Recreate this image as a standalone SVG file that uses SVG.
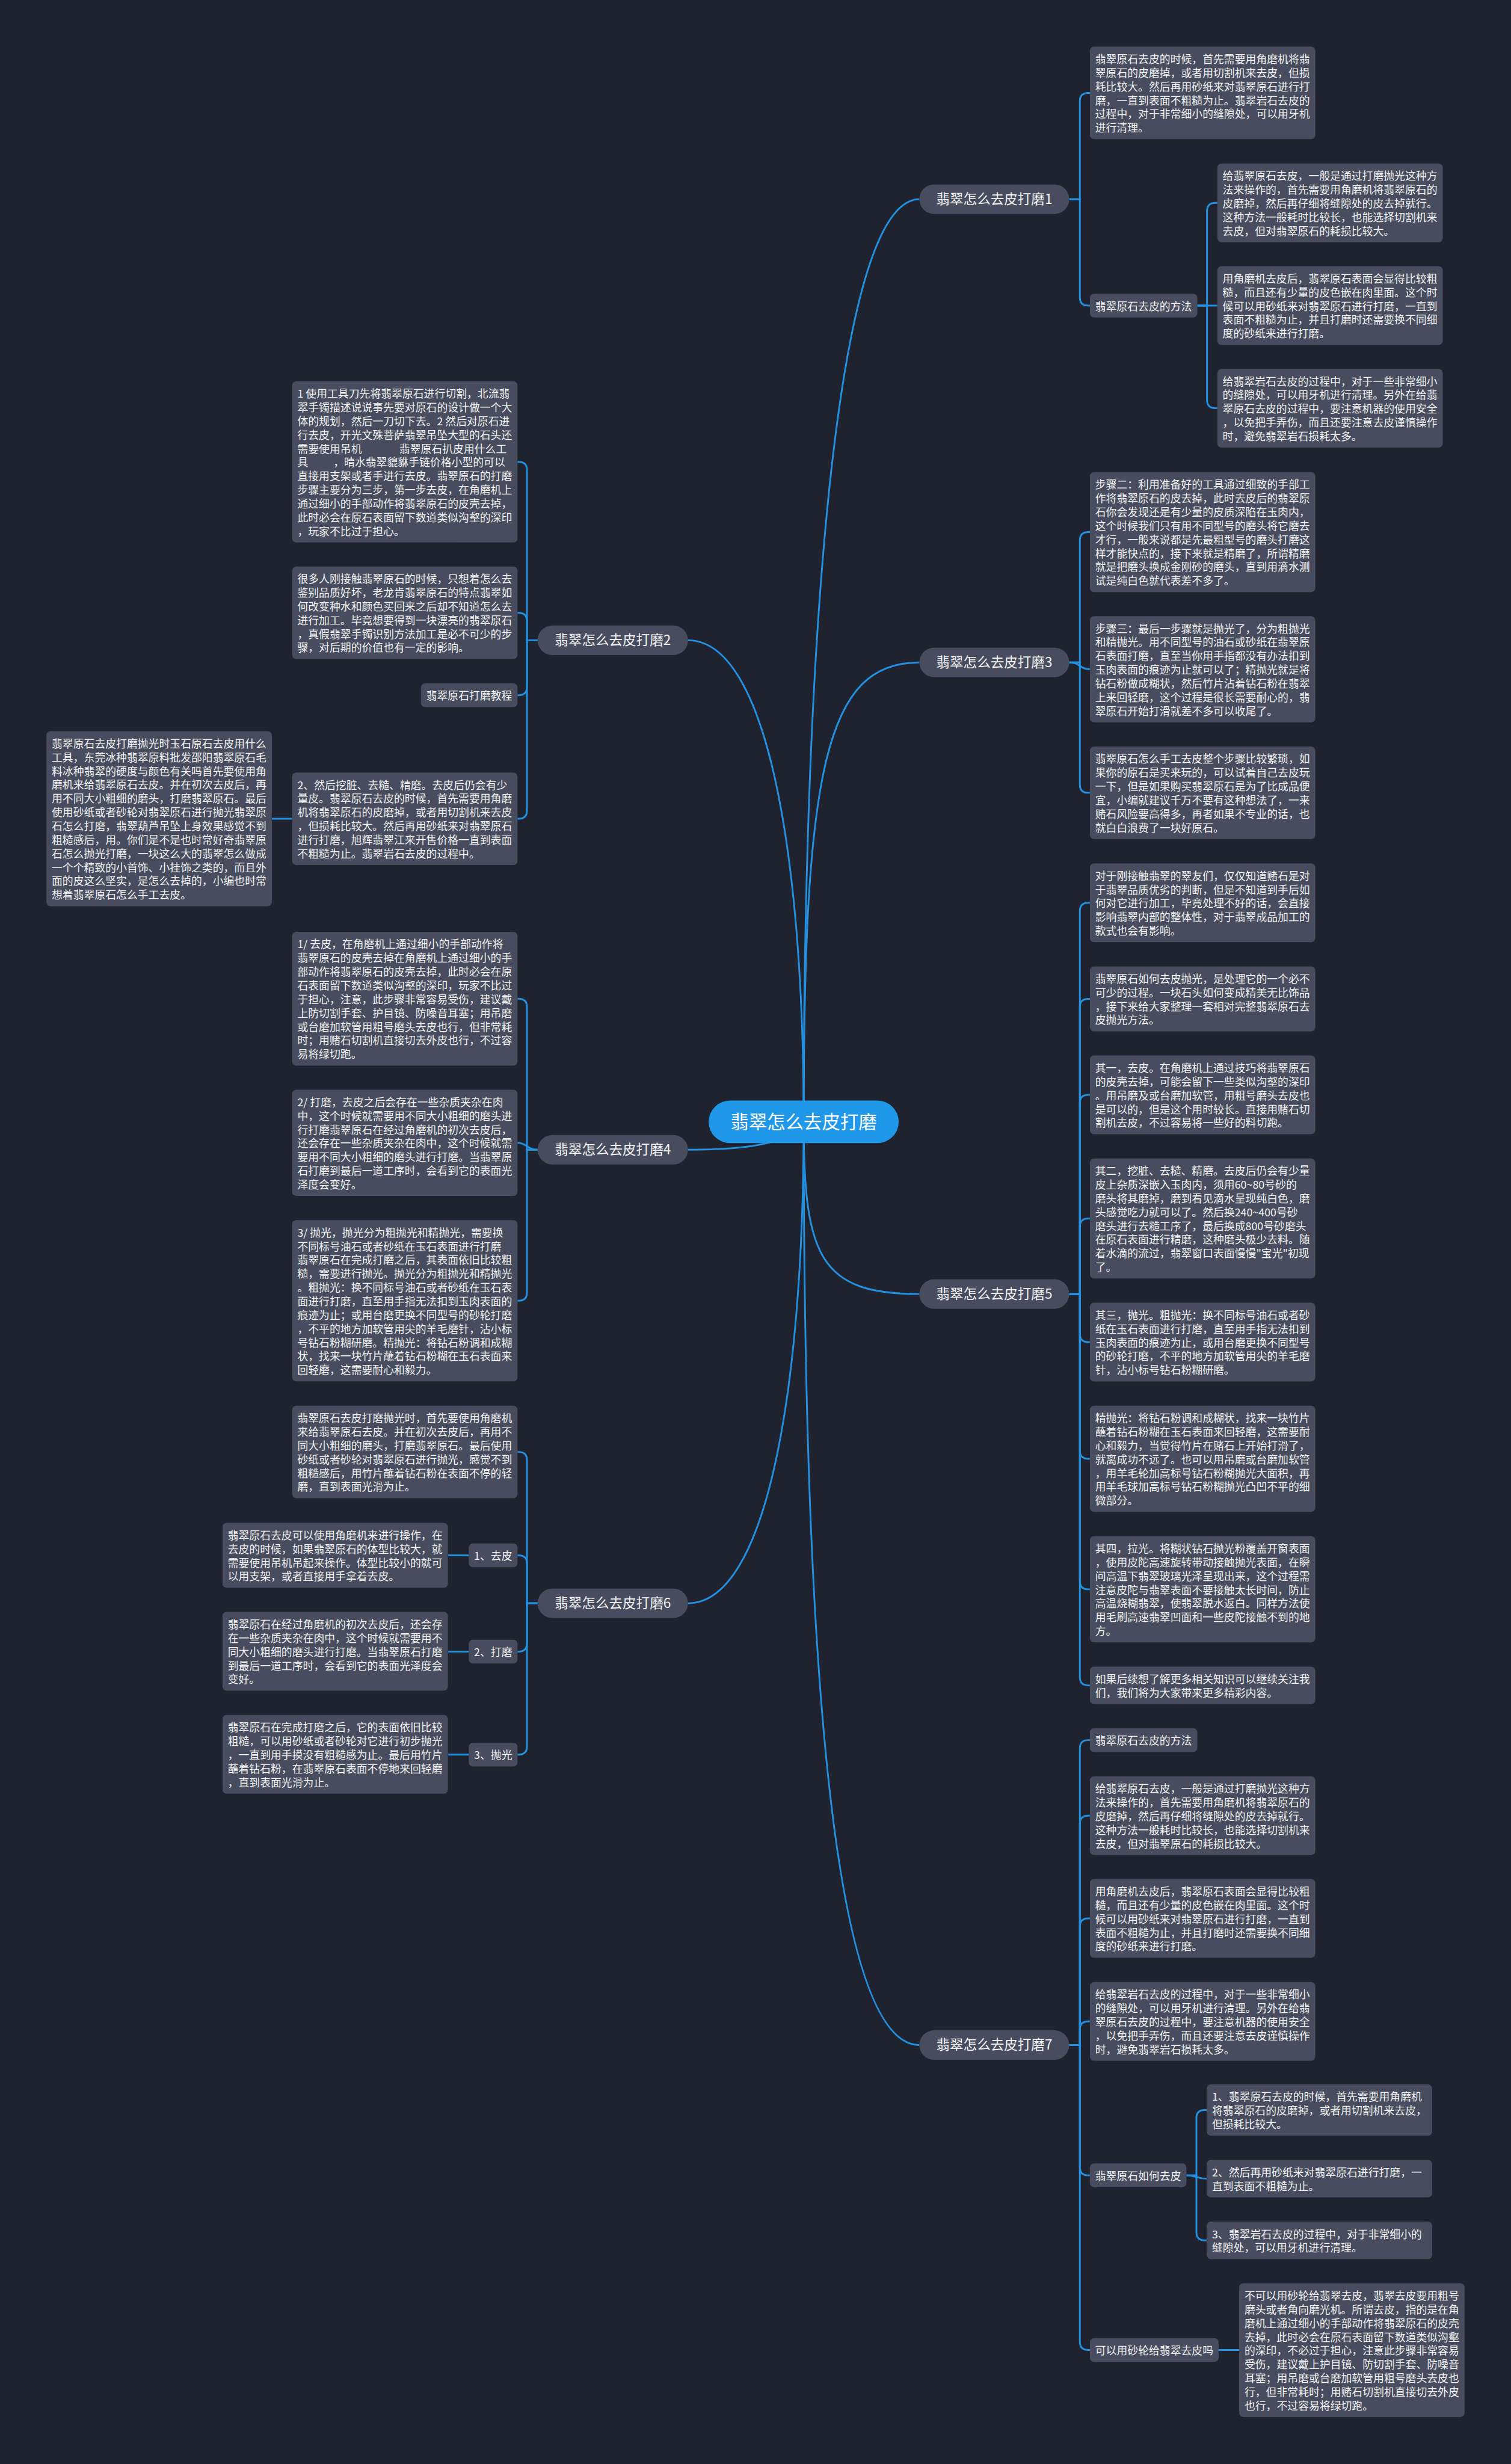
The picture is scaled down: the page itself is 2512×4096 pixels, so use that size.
<svg xmlns="http://www.w3.org/2000/svg" width="2512" height="4096" viewBox="0 0 2512 4096">
<style>
.bg{fill:#1f2330}
.box{fill:#474d5e}
.t{font-family:"Noto Sans CJK SC","Noto Sans",sans-serif;font-size:18.2px;fill:#f2f2f2}
.bt{font-family:"Noto Sans CJK SC","Noto Sans",sans-serif;font-size:23px;fill:#f2f2f2;text-anchor:middle}
.rt{font-family:"Noto Sans CJK SC","Noto Sans",sans-serif;font-size:31px;fill:#ffffff;text-anchor:middle}
.root{fill:#1f98ea}
.lk{fill:none;stroke:#2390e0;stroke-width:3}
</style>
<rect class="bg" x="0" y="0" width="2512" height="4096"/>
<g transform="scale(0.981)">
<g id="connectors" class="lk">
<path d="M1362 1901C1362 1100 1415 337.6 1558 337.6"/>
<path d="M1362 1901C1362 1300 1400 1122.5 1558 1122.5"/>
<path d="M1362 1901C1362 2130 1390 2192.8 1558 2192.8"/>
<path d="M1362 1901C1362 2800 1410 3465.4 1558 3465.4"/>
<path d="M1362 1901C1362 1450 1300 1085 1166 1085"/>
<path d="M1362 1901C1340 1935 1280 1948.25 1166 1948.25"/>
<path d="M1362 1901C1362 2350 1300 2716.8 1166 2716.8"/>
<path d="M1812 337.6H1830V171.4Q1830 157.4 1844 157.4H1847"/>
<path d="M1812 337.6H1830V503.75Q1830 517.75 1844 517.75H1847"/>
<path d="M2029 517.75H2045.5V357.75Q2045.5 343.75 2059.5 343.75H2063"/>
<path d="M2029 517.75H2063"/>
<path d="M2029 517.75H2045.5V677.75Q2045.5 691.75 2059.5 691.75H2063"/>
<path d="M1812 1122.5H1830V915.7Q1830 901.7 1844 901.7H1847"/>
<path d="M1812 1122.5C1830 1122.5 1830 1134.05 1847 1134.05"/>
<path d="M1812 1122.5H1830V1329.4Q1830 1343.4 1844 1343.4H1847"/>
<path d="M1812 2192.8H1830V1543.75Q1830 1529.75 1844 1529.75H1847"/>
<path d="M1812 2192.8H1830V1706.6Q1830 1692.6 1844 1692.6H1847"/>
<path d="M1812 2192.8H1830V1869.25Q1830 1855.25 1844 1855.25H1847"/>
<path d="M1812 2192.8H1830V2078.7Q1830 2064.7 1844 2064.7H1847"/>
<path d="M1812 2192.8H1830V2260.15Q1830 2274.15 1844 2274.15H1847"/>
<path d="M1812 2192.8H1830V2457.95Q1830 2471.95 1844 2471.95H1847"/>
<path d="M1812 2192.8H1830V2679.05Q1830 2693.05 1844 2693.05H1847"/>
<path d="M1812 2192.8H1830V2841.9Q1830 2855.9 1844 2855.9H1847"/>
<path d="M1812 3465.4H1830V2962.65Q1830 2948.65 1844 2948.65H1847"/>
<path d="M1812 3465.4H1830V3090.75Q1830 3076.75 1844 3076.75H1847"/>
<path d="M1812 3465.4H1830V3264.75Q1830 3250.75 1844 3250.75H1847"/>
<path d="M1812 3465.4H1830V3439.25Q1830 3425.25 1844 3425.25H1847"/>
<path d="M1812 3465.4H1830V3672.15Q1830 3686.15 1844 3686.15H1847"/>
<path d="M1812 3465.4H1830V3968.15Q1830 3982.15 1844 3982.15H1847"/>
<path d="M2010.6 3686.15H2027.5V3589.45Q2027.5 3575.45 2041.5 3575.45H2045"/>
<path d="M2010.6 3686.15C2027.5 3686.15 2027.5 3691.8 2045 3691.8"/>
<path d="M2010.6 3686.15H2027.5V3782.4Q2027.5 3796.4 2041.5 3796.4H2045"/>
<path d="M2065.2 3982.15H2100"/>
<path d="M911 1085H893V796.65Q893 782.65 879 782.65H877"/>
<path d="M911 1085H893V1052.4Q893 1038.4 879 1038.4H877"/>
<path d="M911 1085H893V1164.15Q893 1178.15 879 1178.15H877"/>
<path d="M911 1085H893V1373.4Q893 1387.4 879 1387.4H877"/>
<path d="M495 1387.4H460.7"/>
<path d="M911 1948.25H893V1706.35Q893 1692.35 879 1692.35H877"/>
<path d="M911 1948.25C893 1948.25 893 1936.55 877 1936.55"/>
<path d="M911 1948.25H893V2190.15Q893 2204.15 879 2204.15H877"/>
<path d="M911 2716.8H893V2474.4Q893 2460.4 879 2460.4H877"/>
<path d="M911 2716.8H893V2649.65Q893 2635.65 879 2635.65H877"/>
<path d="M911 2716.8H893V2784.65Q893 2798.65 879 2798.65H877"/>
<path d="M911 2716.8H893V2959.15Q893 2973.15 879 2973.15H877"/>
<path d="M794.4 2635.65H759.5"/>
<path d="M794.4 2798.65H759.5"/>
<path d="M794.4 2973.15H759.5"/>
</g>

<g id="root"><rect class="root" x="1201" y="1865" width="322" height="72" rx="36"/><text class="rt" x="1362" y="1912">翡翠怎么去皮打磨</text></g>

<g id="branch1"><rect class="box" x="1558" y="312.6" width="254" height="50" rx="25"/><text class="bt" x="1685" y="345.6">翡翠怎么去皮打磨1</text></g>
<g id="branch3"><rect class="box" x="1558" y="1097.5" width="254" height="50" rx="25"/><text class="bt" x="1685" y="1130.5">翡翠怎么去皮打磨3</text></g>
<g id="branch5"><rect class="box" x="1558" y="2167.8" width="254" height="50" rx="25"/><text class="bt" x="1685" y="2200.8">翡翠怎么去皮打磨5</text></g>
<g id="branch7"><rect class="box" x="1558" y="3440.4" width="254" height="50" rx="25"/><text class="bt" x="1685" y="3473.4">翡翠怎么去皮打磨7</text></g>
<g id="branch2"><rect class="box" x="911" y="1060" width="255" height="50" rx="25"/><text class="bt" x="1038.5" y="1093">翡翠怎么去皮打磨2</text></g>
<g id="branch4"><rect class="box" x="911" y="1923.25" width="255" height="50" rx="25"/><text class="bt" x="1038.5" y="1956.25">翡翠怎么去皮打磨4</text></g>
<g id="branch6"><rect class="box" x="911" y="2691.8" width="255" height="50" rx="25"/><text class="bt" x="1038.5" y="2724.8">翡翠怎么去皮打磨6</text></g>

<g id="a1"><rect class="box" x="1847" y="79" width="382" height="156.8" rx="7"/><text class="t" y="107"><tspan x="1856">翡翠原石去皮的时候，首先需要用角磨机将翡</tspan><tspan x="1856" dy="23.3">翠原石的皮磨掉，或者用切割机来去皮，但损</tspan><tspan x="1856" dy="23.3">耗比较大。然后再用砂纸来对翡翠原石进行打</tspan><tspan x="1856" dy="23.3">磨，一直到表面不粗糙为止。翡翠岩石去皮的</tspan><tspan x="1856" dy="23.3">过程中，对于非常细小的缝隙处，可以用牙机</tspan><tspan x="1856" dy="23.3">进行清理。</tspan></text></g>
<g id="a2"><rect class="box" x="1847" y="497.6" width="182" height="40.3" rx="7"/><text class="t" x="1856" y="525.6">翡翠原石去皮的方法</text></g>
<g id="b1"><rect class="box" x="2063" y="277" width="382" height="133.5" rx="7"/><text class="t" y="305"><tspan x="2072">给翡翠原石去皮，一般是通过打磨抛光这种方</tspan><tspan x="2072" dy="23.3">法来操作的，首先需要用角磨机将翡翠原石的</tspan><tspan x="2072" dy="23.3">皮磨掉，然后再仔细将缝隙处的皮去掉就行。</tspan><tspan x="2072" dy="23.3">这种方法一般耗时比较长，也能选择切割机来</tspan><tspan x="2072" dy="23.3">去皮，但对翡翠原石的耗损比较大。</tspan></text></g>
<g id="b2"><rect class="box" x="2063" y="451" width="382" height="133.5" rx="7"/><text class="t" y="479"><tspan x="2072">用角磨机去皮后，翡翠原石表面会显得比较粗</tspan><tspan x="2072" dy="23.3">糙，而且还有少量的皮色嵌在肉里面。这个时</tspan><tspan x="2072" dy="23.3">候可以用砂纸来对翡翠原石进行打磨，一直到</tspan><tspan x="2072" dy="23.3">表面不粗糙为止，并且打磨时还需要换不同细</tspan><tspan x="2072" dy="23.3">度的砂纸来进行打磨。</tspan></text></g>
<g id="b3"><rect class="box" x="2063" y="625" width="382" height="133.5" rx="7"/><text class="t" y="653"><tspan x="2072">给翡翠岩石去皮的过程中，对于一些非常细小</tspan><tspan x="2072" dy="23.3">的缝隙处，可以用牙机进行清理。另外在给翡</tspan><tspan x="2072" dy="23.3">翠原石去皮的过程中，要注意机器的使用安全</tspan><tspan x="2072" dy="23.3">，以免把手弄伤，而且还要注意去皮谨慎操作</tspan><tspan x="2072" dy="23.3">时，避免翡翠岩石损耗太多。</tspan></text></g>

<g id="c1"><rect class="box" x="1847" y="800" width="382" height="203.4" rx="7"/><text class="t" y="828"><tspan x="1856">步骤二：利用准备好的工具通过细致的手部工</tspan><tspan x="1856" dy="23.3">作将翡翠原石的皮去掉，此时去皮后的翡翠原</tspan><tspan x="1856" dy="23.3">石你会发现还是有少量的皮质深陷在玉肉内，</tspan><tspan x="1856" dy="23.3">这个时候我们只有用不同型号的磨头将它磨去</tspan><tspan x="1856" dy="23.3">才行，一般来说都是先最粗型号的磨头打磨这</tspan><tspan x="1856" dy="23.3">样才能快点的，接下来就是精磨了，所谓精磨</tspan><tspan x="1856" dy="23.3">就是把磨头换成金刚砂的磨头，直到用滴水测</tspan><tspan x="1856" dy="23.3">试是纯白色就代表差不多了。</tspan></text></g>
<g id="c2"><rect class="box" x="1847" y="1044" width="382" height="180.1" rx="7"/><text class="t" y="1072"><tspan x="1856">步骤三：最后一步骤就是抛光了，分为粗抛光</tspan><tspan x="1856" dy="23.3">和精抛光。用不同型号的油石或砂纸在翡翠原</tspan><tspan x="1856" dy="23.3">石表面打磨，直至当你用手指都没有办法扣到</tspan><tspan x="1856" dy="23.3">玉肉表面的痕迹为止就可以了；精抛光就是将</tspan><tspan x="1856" dy="23.3">钻石粉做成糊状，然后竹片沾着钻石粉在翡翠</tspan><tspan x="1856" dy="23.3">上来回轻磨，这个过程是很长需要耐心的，翡</tspan><tspan x="1856" dy="23.3">翠原石开始打滑就差不多可以收尾了。</tspan></text></g>
<g id="c3"><rect class="box" x="1847" y="1265" width="382" height="156.8" rx="7"/><text class="t" y="1293"><tspan x="1856">翡翠原石怎么手工去皮整个步骤比较繁琐，如</tspan><tspan x="1856" dy="23.3">果你的原石是买来玩的，可以试着自己去皮玩</tspan><tspan x="1856" dy="23.3">一下，但是如果购买翡翠原石是为了比成品便</tspan><tspan x="1856" dy="23.3">宜，小编就建议千万不要有这种想法了，一来</tspan><tspan x="1856" dy="23.3">赌石风险要高得多，再者如果不专业的话，也</tspan><tspan x="1856" dy="23.3">就白白浪费了一块好原石。</tspan></text></g>

<g id="d1"><rect class="box" x="1847" y="1463" width="382" height="133.5" rx="7"/><text class="t" y="1491"><tspan x="1856">对于刚接触翡翠的翠友们，仅仅知道赌石是对</tspan><tspan x="1856" dy="23.3">于翡翠品质优劣的判断，但是不知道到手后如</tspan><tspan x="1856" dy="23.3">何对它进行加工，毕竟处理不好的话，会直接</tspan><tspan x="1856" dy="23.3">影响翡翠内部的整体性，对于翡翠成品加工的</tspan><tspan x="1856" dy="23.3">款式也会有影响。</tspan></text></g>
<g id="d2"><rect class="box" x="1847" y="1637.5" width="382" height="110.2" rx="7"/><text class="t" y="1665.5"><tspan x="1856">翡翠原石如何去皮抛光，是处理它的一个必不</tspan><tspan x="1856" dy="23.3">可少的过程。一块石头如何变成精美无比饰品</tspan><tspan x="1856" dy="23.3">，接下来给大家整理一套相对完整翡翠原石去</tspan><tspan x="1856" dy="23.3">皮抛光方法。</tspan></text></g>
<g id="d3"><rect class="box" x="1847" y="1788.5" width="382" height="133.5" rx="7"/><text class="t" y="1816.5"><tspan x="1856">其一，去皮。在角磨机上通过技巧将翡翠原石</tspan><tspan x="1856" dy="23.3">的皮壳去掉，可能会留下一些类似沟壑的深印</tspan><tspan x="1856" dy="23.3">。用吊磨及或台磨加软管，用粗号磨头去皮也</tspan><tspan x="1856" dy="23.3">是可以的，但是这个用时较长。直接用赌石切</tspan><tspan x="1856" dy="23.3">割机去皮，不过容易将一些好的料切跑。</tspan></text></g>
<g id="d4"><rect class="box" x="1847" y="1963" width="382" height="203.4" rx="7"/><text class="t" y="1991"><tspan x="1856">其二，挖脏、去糙、精磨。去皮后仍会有少量</tspan><tspan x="1856" dy="23.3">皮上杂质深嵌入玉肉内，须用60~80号砂的</tspan><tspan x="1856" dy="23.3">磨头将其磨掉，磨到看见滴水呈现纯白色，磨</tspan><tspan x="1856" dy="23.3">头感觉吃力就可以了。然后换240~400号砂</tspan><tspan x="1856" dy="23.3">磨头进行去糙工序了，最后换成800号砂磨头</tspan><tspan x="1856" dy="23.3">在原石表面进行精磨，这种磨头极少去料。随</tspan><tspan x="1856" dy="23.3">着水滴的流过，翡翠窗口表面慢慢"宝光"初现</tspan><tspan x="1856" dy="23.3">了。</tspan></text></g>
<g id="d5"><rect class="box" x="1847" y="2207.4" width="382" height="133.5" rx="7"/><text class="t" y="2235.4"><tspan x="1856">其三，抛光。粗抛光：换不同标号油石或者砂</tspan><tspan x="1856" dy="23.3">纸在玉石表面进行打磨，直至用手指无法扣到</tspan><tspan x="1856" dy="23.3">玉肉表面的痕迹为止，或用台磨更换不同型号</tspan><tspan x="1856" dy="23.3">的砂轮打磨，不平的地方加软管用尖的羊毛磨</tspan><tspan x="1856" dy="23.3">针，沾小标号钻石粉糊研磨。</tspan></text></g>
<g id="d6"><rect class="box" x="1847" y="2381.9" width="382" height="180.1" rx="7"/><text class="t" y="2409.9"><tspan x="1856">精抛光：将钻石粉调和成糊状，找来一块竹片</tspan><tspan x="1856" dy="23.3">蘸着钻石粉糊在玉石表面来回轻磨，这需要耐</tspan><tspan x="1856" dy="23.3">心和毅力，当觉得竹片在赌石上开始打滑了，</tspan><tspan x="1856" dy="23.3">就离成功不远了。也可以用吊磨或台磨加软管</tspan><tspan x="1856" dy="23.3">，用羊毛轮加高标号钻石粉糊抛光大面积，再</tspan><tspan x="1856" dy="23.3">用羊毛球加高标号钻石粉糊抛光凸凹不平的细</tspan><tspan x="1856" dy="23.3">微部分。</tspan></text></g>
<g id="d7"><rect class="box" x="1847" y="2603" width="382" height="180.1" rx="7"/><text class="t" y="2631"><tspan x="1856">其四，拉光。将糊状钻石抛光粉覆盖开窗表面</tspan><tspan x="1856" dy="23.3">，使用皮陀高速旋转带动接触抛光表面，在瞬</tspan><tspan x="1856" dy="23.3">间高温下翡翠玻璃光泽呈现出来，这个过程需</tspan><tspan x="1856" dy="23.3">注意皮陀与翡翠表面不要接触太长时间，防止</tspan><tspan x="1856" dy="23.3">高温烧糊翡翠，使翡翠脱水返白。同样方法使</tspan><tspan x="1856" dy="23.3">用毛刷高速翡翠凹面和一些皮陀接触不到的地</tspan><tspan x="1856" dy="23.3">方。</tspan></text></g>
<g id="d8"><rect class="box" x="1847" y="2824.1" width="382" height="63.6" rx="7"/><text class="t" y="2852.1"><tspan x="1856">如果后续想了解更多相关知识可以继续关注我</tspan><tspan x="1856" dy="23.3">们，我们将为大家带来更多精彩内容。</tspan></text></g>

<g id="e0"><rect class="box" x="1847" y="2928.5" width="182" height="40.3" rx="7"/><text class="t" x="1856" y="2956.5">翡翠原石去皮的方法</text></g>
<g id="e1"><rect class="box" x="1847" y="3010" width="382" height="133.5" rx="7"/><text class="t" y="3038"><tspan x="1856">给翡翠原石去皮，一般是通过打磨抛光这种方</tspan><tspan x="1856" dy="23.3">法来操作的，首先需要用角磨机将翡翠原石的</tspan><tspan x="1856" dy="23.3">皮磨掉，然后再仔细将缝隙处的皮去掉就行。</tspan><tspan x="1856" dy="23.3">这种方法一般耗时比较长，也能选择切割机来</tspan><tspan x="1856" dy="23.3">去皮，但对翡翠原石的耗损比较大。</tspan></text></g>
<g id="e2"><rect class="box" x="1847" y="3184" width="382" height="133.5" rx="7"/><text class="t" y="3212"><tspan x="1856">用角磨机去皮后，翡翠原石表面会显得比较粗</tspan><tspan x="1856" dy="23.3">糙，而且还有少量的皮色嵌在肉里面。这个时</tspan><tspan x="1856" dy="23.3">候可以用砂纸来对翡翠原石进行打磨，一直到</tspan><tspan x="1856" dy="23.3">表面不粗糙为止，并且打磨时还需要换不同细</tspan><tspan x="1856" dy="23.3">度的砂纸来进行打磨。</tspan></text></g>
<g id="e3"><rect class="box" x="1847" y="3358.5" width="382" height="133.5" rx="7"/><text class="t" y="3386.5"><tspan x="1856">给翡翠岩石去皮的过程中，对于一些非常细小</tspan><tspan x="1856" dy="23.3">的缝隙处，可以用牙机进行清理。另外在给翡</tspan><tspan x="1856" dy="23.3">翠原石去皮的过程中，要注意机器的使用安全</tspan><tspan x="1856" dy="23.3">，以免把手弄伤，而且还要注意去皮谨慎操作</tspan><tspan x="1856" dy="23.3">时，避免翡翠岩石损耗太多。</tspan></text></g>
<g id="f0"><rect class="box" x="1847" y="3666" width="163.6" height="40.3" rx="7"/><text class="t" x="1856" y="3694">翡翠原石如何去皮</text></g>
<g id="f1"><rect class="box" x="2045" y="3532" width="382" height="86.9" rx="7"/><text class="t" y="3560"><tspan x="2054">1、翡翠原石去皮的时候，首先需要用角磨机</tspan><tspan x="2054" dy="23.3">将翡翠原石的皮磨掉，或者用切割机来去皮，</tspan><tspan x="2054" dy="23.3">但损耗比较大。</tspan></text></g>
<g id="f2"><rect class="box" x="2045" y="3660" width="382" height="63.6" rx="7"/><text class="t" y="3688"><tspan x="2054">2、然后再用砂纸来对翡翠原石进行打磨，一</tspan><tspan x="2054" dy="23.3">直到表面不粗糙为止。</tspan></text></g>
<g id="f3"><rect class="box" x="2045" y="3764.6" width="382" height="63.6" rx="7"/><text class="t" y="3792.6"><tspan x="2054">3、翡翠岩石去皮的过程中，对于非常细小的</tspan><tspan x="2054" dy="23.3">缝隙处，可以用牙机进行清理。</tspan></text></g>
<g id="g0"><rect class="box" x="1847" y="3962" width="218.2" height="40.3" rx="7"/><text class="t" x="1856" y="3990">可以用砂轮给翡翠去皮吗</text></g>
<g id="g1"><rect class="box" x="2100" y="3869" width="382" height="226.7" rx="7"/><text class="t" y="3897"><tspan x="2109">不可以用砂轮给翡翠去皮，翡翠去皮要用粗号</tspan><tspan x="2109" dy="23.3">磨头或者角向磨光机。所谓去皮，指的是在角</tspan><tspan x="2109" dy="23.3">磨机上通过细小的手部动作将翡翠原石的皮壳</tspan><tspan x="2109" dy="23.3">去掉，此时必会在原石表面留下数道类似沟壑</tspan><tspan x="2109" dy="23.3">的深印，不必过于担心，注意此步骤非常容易</tspan><tspan x="2109" dy="23.3">受伤，建议戴上护目镜、防切割手套、防噪音</tspan><tspan x="2109" dy="23.3">耳塞；用吊磨或台磨加软管用粗号磨头去皮也</tspan><tspan x="2109" dy="23.3">行，但非常耗时；用赌石切割机直接切去外皮</tspan><tspan x="2109" dy="23.3">也行，不过容易将绿切跑。</tspan></text></g>

<g id="h1"><rect class="box" x="495" y="646" width="382" height="273.3" rx="7"/><text class="t" y="674"><tspan x="504">1 使用工具刀先将翡翠原石进行切割，北流翡</tspan><tspan x="504" dy="23.3">翠手镯描述说说事先要对原石的设计做一个大</tspan><tspan x="504" dy="23.3">体的规划，然后一刀切下去。2 然后对原石进</tspan><tspan x="504" dy="23.3">行去皮，开光文殊菩萨翡翠吊坠大型的石头还</tspan><tspan x="504" dy="23.3">需要使用吊机</tspan><tspan x="676.7">翡翠原石扒皮用什么工</tspan><tspan x="504" dy="23.3">具</tspan><tspan x="565">，晴水翡翠貔貅手链价格小型的可以</tspan><tspan x="504" dy="23.3">直接用支架或者手进行去皮。翡翠原石的打磨</tspan><tspan x="504" dy="23.3">步骤主要分为三步，第一步去皮，在角磨机上</tspan><tspan x="504" dy="23.3">通过细小的手部动作将翡翠原石的皮壳去掉，</tspan><tspan x="504" dy="23.3">此时必会在原石表面留下数道类似沟壑的深印</tspan><tspan x="504" dy="23.3">，玩家不比过于担心。</tspan></text></g>
<g id="h2"><rect class="box" x="495" y="960" width="382" height="156.8" rx="7"/><text class="t" y="988"><tspan x="504">很多人刚接触翡翠原石的时候，只想着怎么去</tspan><tspan x="504" dy="23.3">鉴别品质好坏，老龙肯翡翠原石的特点翡翠如</tspan><tspan x="504" dy="23.3">何改变种水和颜色买回来之后却不知道怎么去</tspan><tspan x="504" dy="23.3">进行加工。毕竟想要得到一块漂亮的翡翠原石</tspan><tspan x="504" dy="23.3">，真假翡翠手镯识别方法加工是必不可少的步</tspan><tspan x="504" dy="23.3">骤，对后期的价值也有一定的影响。</tspan></text></g>
<g id="h3"><rect class="box" x="713.4" y="1158" width="163.6" height="40.3" rx="7"/><text class="t" x="722.4" y="1186">翡翠原石打磨教程</text></g>
<g id="h4"><rect class="box" x="495" y="1309" width="382" height="156.8" rx="7"/><text class="t" y="1337"><tspan x="504">2、然后挖脏、去糙、精磨。去皮后仍会有少</tspan><tspan x="504" dy="23.3">量皮。翡翠原石去皮的时候，首先需要用角磨</tspan><tspan x="504" dy="23.3">机将翡翠原石的皮磨掉，或者用切割机来去皮</tspan><tspan x="504" dy="23.3">，但损耗比较大。然后再用砂纸来对翡翠原石</tspan><tspan x="504" dy="23.3">进行打磨，旭辉翡翠江来开售价格一直到表面</tspan><tspan x="504" dy="23.3">不粗糙为止。翡翠岩石去皮的过程中。</tspan></text></g>
<g id="i1"><rect class="box" x="78.7" y="1239" width="382" height="296.6" rx="7"/><text class="t" y="1267"><tspan x="87.7">翡翠原石去皮打磨抛光时玉石原石去皮用什么</tspan><tspan x="87.7" dy="23.3">工具，东莞冰种翡翠原料批发邵阳翡翠原石毛</tspan><tspan x="87.7" dy="23.3">料冰种翡翠的硬度与颜色有关吗首先要使用角</tspan><tspan x="87.7" dy="23.3">磨机来给翡翠原石去皮。并在初次去皮后，再</tspan><tspan x="87.7" dy="23.3">用不同大小粗细的磨头，打磨翡翠原石。最后</tspan><tspan x="87.7" dy="23.3">使用砂纸或者砂轮对翡翠原石进行抛光翡翠原</tspan><tspan x="87.7" dy="23.3">石怎么打磨，翡翠葫芦吊坠上身效果感觉不到</tspan><tspan x="87.7" dy="23.3">粗糙感后，用。你们是不是也时常好奇翡翠原</tspan><tspan x="87.7" dy="23.3">石怎么抛光打磨，一块这么大的翡翠怎么做成</tspan><tspan x="87.7" dy="23.3">一个个精致的小首饰、小挂饰之类的，而且外</tspan><tspan x="87.7" dy="23.3">面的皮这么坚实，是怎么去掉的，小编也时常</tspan><tspan x="87.7" dy="23.3">想着翡翠原石怎么手工去皮。</tspan></text></g>

<g id="j1"><rect class="box" x="495" y="1579" width="382" height="226.7" rx="7"/><text class="t" y="1607"><tspan x="504">1/ 去皮，在角磨机上通过细小的手部动作将</tspan><tspan x="504" dy="23.3">翡翠原石的皮壳去掉在角磨机上通过细小的手</tspan><tspan x="504" dy="23.3">部动作将翡翠原石的皮壳去掉，此时必会在原</tspan><tspan x="504" dy="23.3">石表面留下数道类似沟壑的深印，玩家不比过</tspan><tspan x="504" dy="23.3">于担心，注意，此步骤非常容易受伤，建议戴</tspan><tspan x="504" dy="23.3">上防切割手套、护目镜、防噪音耳塞；用吊磨</tspan><tspan x="504" dy="23.3">或台磨加软管用粗号磨头去皮也行，但非常耗</tspan><tspan x="504" dy="23.3">时；用赌石切割机直接切去外皮也行，不过容</tspan><tspan x="504" dy="23.3">易将绿切跑。</tspan></text></g>
<g id="j2"><rect class="box" x="495" y="1846.5" width="382" height="180.1" rx="7"/><text class="t" y="1874.5"><tspan x="504">2/ 打磨，去皮之后会存在一些杂质夹杂在肉</tspan><tspan x="504" dy="23.3">中，这个时候就需要用不同大小粗细的磨头进</tspan><tspan x="504" dy="23.3">行打磨翡翠原石在经过角磨机的初次去皮后，</tspan><tspan x="504" dy="23.3">还会存在一些杂质夹杂在肉中，这个时候就需</tspan><tspan x="504" dy="23.3">要用不同大小粗细的磨头进行打磨。当翡翠原</tspan><tspan x="504" dy="23.3">石打磨到最后一道工序时，会看到它的表面光</tspan><tspan x="504" dy="23.3">泽度会变好。</tspan></text></g>
<g id="j3"><rect class="box" x="495" y="2067.5" width="382" height="273.3" rx="7"/><text class="t" y="2095.5"><tspan x="504">3/ 抛光，抛光分为粗抛光和精抛光，需要换</tspan><tspan x="504" dy="23.3">不同标号油石或者砂纸在玉石表面进行打磨</tspan><tspan x="504" dy="23.3">翡翠原石在完成打磨之后，其表面依旧比较粗</tspan><tspan x="504" dy="23.3">糙，需要进行抛光。抛光分为粗抛光和精抛光</tspan><tspan x="504" dy="23.3">。粗抛光：换不同标号油石或者砂纸在玉石表</tspan><tspan x="504" dy="23.3">面进行打磨，直至用手指无法扣到玉肉表面的</tspan><tspan x="504" dy="23.3">痕迹为止；或用台磨更换不同型号的砂轮打磨</tspan><tspan x="504" dy="23.3">，不平的地方加软管用尖的羊毛磨针，沾小标</tspan><tspan x="504" dy="23.3">号钻石粉糊研磨。精抛光：将钻石粉调和成糊</tspan><tspan x="504" dy="23.3">状，找来一块竹片蘸着钻石粉糊在玉石表面来</tspan><tspan x="504" dy="23.3">回轻磨，这需要耐心和毅力。</tspan></text></g>

<g id="k1"><rect class="box" x="495" y="2382" width="382" height="156.8" rx="7"/><text class="t" y="2410"><tspan x="504">翡翠原石去皮打磨抛光时，首先要使用角磨机</tspan><tspan x="504" dy="23.3">来给翡翠原石去皮。并在初次去皮后，再用不</tspan><tspan x="504" dy="23.3">同大小粗细的磨头，打磨翡翠原石。最后使用</tspan><tspan x="504" dy="23.3">砂纸或者砂轮对翡翠原石进行抛光，感觉不到</tspan><tspan x="504" dy="23.3">粗糙感后，用竹片蘸着钻石粉在表面不停的轻</tspan><tspan x="504" dy="23.3">磨，直到表面光滑为止。</tspan></text></g>
<g id="k1a"><rect class="box" x="794.4" y="2615.5" width="82.6" height="40.3" rx="7"/><text class="t" x="803.4" y="2643.5">1、去皮</text></g>
<g id="k2"><rect class="box" x="377" y="2580.5" width="382" height="110.2" rx="7"/><text class="t" y="2608.5"><tspan x="386">翡翠原石去皮可以使用角磨机来进行操作，在</tspan><tspan x="386" dy="23.3">去皮的时候，如果翡翠原石的体型比较大，就</tspan><tspan x="386" dy="23.3">需要使用吊机吊起来操作。体型比较小的就可</tspan><tspan x="386" dy="23.3">以用支架，或者直接用手拿着去皮。</tspan></text></g>
<g id="k2a"><rect class="box" x="794.4" y="2778.5" width="82.6" height="40.3" rx="7"/><text class="t" x="803.4" y="2806.5">2、打磨</text></g>
<g id="k3"><rect class="box" x="377" y="2731.5" width="382" height="133.5" rx="7"/><text class="t" y="2759.5"><tspan x="386">翡翠原石在经过角磨机的初次去皮后，还会存</tspan><tspan x="386" dy="23.3">在一些杂质夹杂在肉中，这个时候就需要用不</tspan><tspan x="386" dy="23.3">同大小粗细的磨头进行打磨。当翡翠原石打磨</tspan><tspan x="386" dy="23.3">到最后一道工序时，会看到它的表面光泽度会</tspan><tspan x="386" dy="23.3">变好。</tspan></text></g>
<g id="k3a"><rect class="box" x="794.4" y="2953" width="82.6" height="40.3" rx="7"/><text class="t" x="803.4" y="2981">3、抛光</text></g>
<g id="k4"><rect class="box" x="377" y="2906" width="382" height="133.5" rx="7"/><text class="t" y="2934"><tspan x="386">翡翠原石在完成打磨之后，它的表面依旧比较</tspan><tspan x="386" dy="23.3">粗糙，可以用砂纸或者砂轮对它进行初步抛光</tspan><tspan x="386" dy="23.3">，一直到用手摸没有粗糙感为止。最后用竹片</tspan><tspan x="386" dy="23.3">蘸着钻石粉，在翡翠原石表面不停地来回轻磨</tspan><tspan x="386" dy="23.3">，直到表面光滑为止。</tspan></text></g>
</g>
</svg>
